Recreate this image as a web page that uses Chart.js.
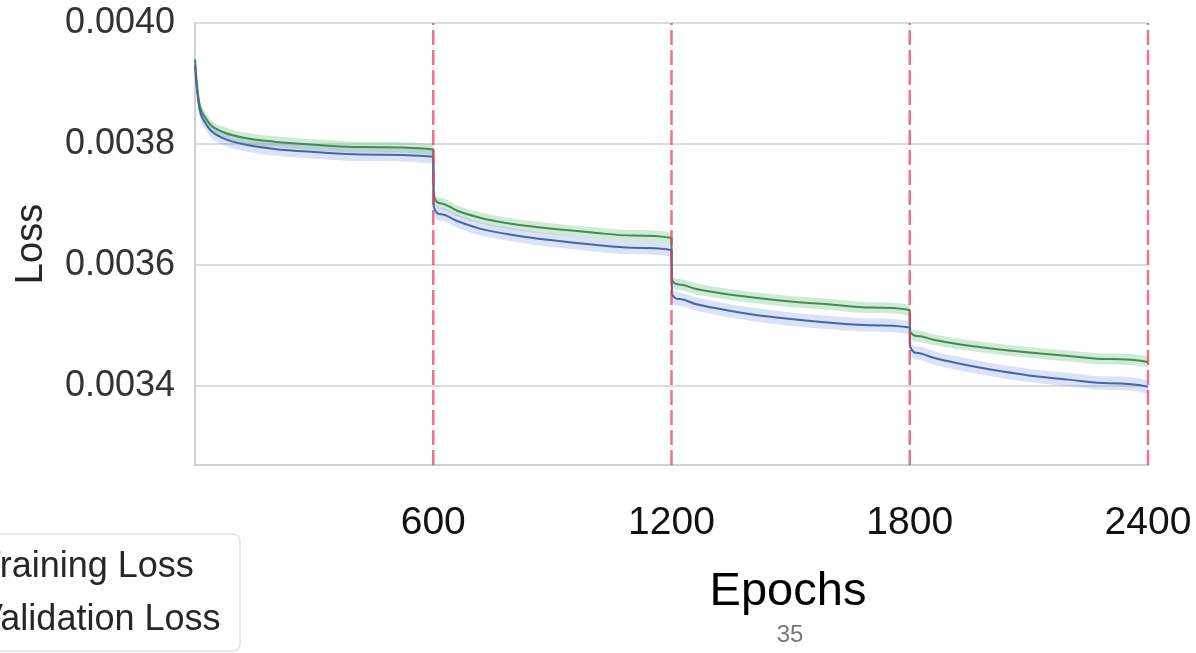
<!DOCTYPE html>
<html>
<head>
<meta charset="utf-8">
<script src="https://cdn.jsdelivr.net/npm/chart.js@4"></script>
<style>
  html, body { margin: 0; padding: 0; background: #fff; overflow: hidden; }
  #wrap { position: relative; width: 1196px; height: 653px; }
</style>
</head>
<body>
<div id="wrap"><canvas id="c"></canvas></div>
<script>
// epochs sampled along the four 600-epoch stages
const epochs = [
  0, 5, 12, 25, 40, 70, 120, 200, 300, 420, 600,
  601, 620, 660, 720, 800, 900, 1000, 1100, 1200,
  1201, 1220, 1260, 1320, 1400, 1500, 1600, 1700, 1800,
  1801, 1820, 1860, 1920, 2000, 2100, 2200, 2300, 2400, 2401
];
const trainLoss = [
  0.003930, 0.003890, 0.003856, 0.003836, 0.003822, 0.003810, 0.003800, 0.003792, 0.003787, 0.003783, 0.003779,
  0.003697, 0.003684, 0.003673, 0.003660, 0.003650, 0.003641, 0.003634, 0.003629, 0.003625,
  0.003552, 0.003544, 0.003536, 0.003528, 0.003519, 0.003511, 0.003505, 0.003501, 0.003497,
  0.003465, 0.003455, 0.003447, 0.003438, 0.003428, 0.003418, 0.003411, 0.003405, 0.003399, 0.003362
];
const valLoss = [
  0.003940, 0.003898, 0.003864, 0.003845, 0.003831, 0.003820, 0.003811, 0.003804, 0.003799, 0.003795, 0.003791,
  0.003715, 0.003702, 0.003690, 0.003678, 0.003668, 0.003660, 0.003654, 0.003649, 0.003645,
  0.003575, 0.003568, 0.003561, 0.003554, 0.003547, 0.003540, 0.003535, 0.003530, 0.003526,
  0.003490, 0.003483, 0.003477, 0.003470, 0.003463, 0.003456, 0.003450, 0.003445, 0.003440, 0.003400
];
// spread of the shaded bands
const trainStd = [
  0.000012, 0.000012, 0.000012, 0.000011, 0.000011, 0.000011, 0.000011, 0.000011, 0.000011, 0.000011, 0.000011,
  0.000011, 0.000011, 0.000011, 0.000011, 0.000011, 0.000011, 0.000011, 0.000011, 0.000011,
  0.000011, 0.000011, 0.000011, 0.000011, 0.000011, 0.000011, 0.000011, 0.000011, 0.000011,
  0.000011, 0.000011, 0.000011, 0.000011, 0.000011, 0.000011, 0.000011, 0.000011, 0.000011, 0.000011
];
const valStd = [
  0.000010, 0.000010, 0.000009, 0.000009, 0.000009, 0.000009, 0.000009, 0.000009, 0.000009, 0.000009, 0.000009,
  0.000009, 0.000009, 0.000009, 0.000009, 0.000009, 0.000009, 0.000009, 0.000009, 0.000009,
  0.000009, 0.000009, 0.000009, 0.000009, 0.000009, 0.000009, 0.000009, 0.000009, 0.000009,
  0.000009, 0.000009, 0.000009, 0.000009, 0.000009, 0.000009, 0.000009, 0.000009, 0.000009, 0.000009
];
const stageEnds = [600, 1200, 1800, 2400];
const xTicks = [600, 1200, 1800, 2400];
const yTicks = [0.0034, 0.0036, 0.0038, 0.0040];
const yMin = 0.00327, yMax = 0.0040;
const legendLabels = ['Training Loss', 'Validation Loss'];

const FONT = '"Liberation Sans", Arial, sans-serif';
const BLUE = '#4467a8', GREEN = '#3f8f52';

const pts = vals => epochs.map((e, i) => ({ x: e, y: vals[i] }));
const band = (vals, sd, sign) => epochs.map((e, i) => ({ x: e, y: vals[i] + sign * sd[i] }));

const datasets = [
  { data: band(valLoss, valStd, 1), fill: '+1', backgroundColor: 'rgba(110,190,125,0.32)', borderWidth: 0, order: 5 },
  { data: band(valLoss, valStd, -1), fill: false, borderWidth: 0, order: 5 },
  { data: band(trainLoss, trainStd, 1), fill: '+1', backgroundColor: 'rgba(110,135,220,0.25)', borderWidth: 0, order: 4 },
  { data: band(trainLoss, trainStd, -1), fill: false, borderWidth: 0, order: 4 },
  { label: legendLabels[1], data: pts(valLoss), borderColor: GREEN, borderWidth: 2, fill: false, order: 2, clip: 4 },
  { label: legendLabels[0], data: pts(trainLoss), borderColor: BLUE, borderWidth: 2, fill: false, order: 1, clip: 4 }
];
stageEnds.forEach(e => datasets.push({
  data: [{ x: e, y: yMin }, { x: e, y: yMax }],
  borderColor: 'rgba(232,60,90,0.72)', borderWidth: 2.5, borderDash: [15, 5],
  fill: false, order: 0, clip: 4, cubicInterpolationMode: 'default', tension: 0
}));

// legend box, x axis caption and page number
const annotate = {
  id: 'annotate',
  afterDraw(chart) {
    const ctx = chart.ctx;
    ctx.save();
    ctx.fillStyle = '#fff';
    ctx.strokeStyle = '#e2e2e2';
    ctx.lineWidth = 1.5;
    ctx.beginPath();
    ctx.roundRect(-30, 534, 270, 117, 7);
    ctx.fill();
    ctx.stroke();
    ctx.font = '36px ' + FONT;
    ctx.fillStyle = '#262626';
    ctx.textAlign = 'left';
    ctx.textBaseline = 'alphabetic';
    ctx.fillText(legendLabels[0], -21, 577);
    ctx.fillText(legendLabels[1], -21, 630);
    ctx.textAlign = 'center';
    ctx.font = '47px ' + FONT;
    ctx.fillStyle = '#000';
    ctx.fillText('Epochs', 788, 605);
    ctx.font = '24px ' + FONT;
    ctx.fillStyle = '#777';
    ctx.fillText('35', 790, 642);
    ctx.restore();
  }
};

new Chart(document.getElementById('c'), {
  type: 'line',
  data: { datasets },
  options: {
    responsive: true,
    maintainAspectRatio: false,
    animation: false,
    layout: { padding: { top: 23, right: 48, bottom: 0, left: 0 } },
    elements: {
      point: { radius: 0 },
      line: { cubicInterpolationMode: 'monotone' }
    },
    plugins: { legend: { display: false }, tooltip: { enabled: false } },
    scales: {
      x: {
        type: 'linear',
        min: 0, max: 2400,
        afterBuildTicks: s => { s.ticks = xTicks.map(v => ({ value: v })); },
        afterFit: s => { s.height = 188; s.paddingLeft = 0; s.paddingRight = 0; },
        grid: { display: false },
        border: { display: true, color: '#d0d0d0', width: 2 },
        ticks: {
          padding: 27,
          maxRotation: 0,
          autoSkip: false,
          color: '#111',
          font: { family: FONT, size: 39 },
          callback: v => String(v)
        }
      },
      y: {
        min: yMin, max: yMax,
        afterBuildTicks: s => { s.ticks = yTicks.map(v => ({ value: v })); },
        afterFit: s => { s.width = 195; s.paddingTop = 0; s.paddingBottom = 0; },
        grid: { color: '#dcdcdc', lineWidth: 2, drawTicks: false },
        border: { display: true, color: '#d0d0d0', width: 2 },
        ticks: {
          padding: 20,
          color: '#333',
          font: { family: FONT, size: 36 },
          callback: v => Number(v).toFixed(4)
        },
        title: {
          display: true,
          text: 'Loss',
          color: '#262626',
          font: { family: FONT, size: 38 },
          padding: { top: 9, bottom: 0 }
        }
      }
    }
  },
  plugins: [annotate]
});
</script>
</body>
</html>
